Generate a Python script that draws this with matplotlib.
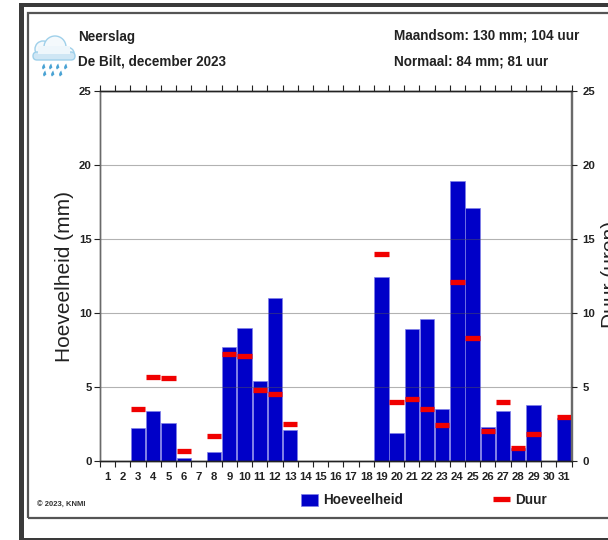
#!/usr/bin/env python3
"""Neerslag De Bilt, december 2023: daily amount (bars) and duration (dashes)."""
import matplotlib
matplotlib.use("Agg")
import matplotlib.pyplot as plt
import numpy as np
from matplotlib.lines import Line2D
from matplotlib.patches import Ellipse, FancyBboxPatch, Patch, PathPatch, Rectangle
from matplotlib.path import Path

plt.rcParams["font.family"] = ["Liberation Sans", "DejaVu Sans"]

W, H = 608, 540

days = list(range(1, 32))
hoeveelheid = [0, 0, 2.2, 3.4, 2.6, 0.2, 0, 0.6, 7.7, 9.0, 5.4, 11.0, 2.1, 0, 0, 0,
               0, 0, 12.4, 1.9, 8.9, 9.6, 3.5, 18.9, 17.1, 2.3, 3.4, 0.9, 3.8, 0, 2.9]
duur_days = [3, 4, 5, 6, 8, 9, 10, 11, 12, 13, 19, 20, 21, 22, 23, 24, 25, 26, 27, 28, 29, 31]
duur = [3.5, 5.7, 5.6, 0.7, 1.7, 7.2, 7.1, 4.8, 4.5, 2.5, 14.0, 4.0, 4.2, 3.5, 2.4,
        12.1, 8.3, 2.0, 4.0, 0.9, 1.8, 3.0]
y_ticks = [0, 5, 10, 15, 20, 25]

BLUE = "#0000c8"
RED = "#f00000"
GREY = "#6a6a6a"
DARK = "#222222"
TICK_SIZE = 8.2
HEAD_SIZE = 9.75


def fx(px):
    return px / W


def fy(py):
    return 1 - py / H


def add_frames(fig):
    # screenshot border: heavy band left and top, thin line at the bottom
    band = "#3a3a3a"
    for x0, y0, x1, y1 in [(19, 3, 24, 540), (19, 3, 608, 6.5), (19, 537.5, 608, 539.5)]:
        fig.add_artist(Rectangle((fx(x0), fy(y1)), fx(x1 - x0), (y1 - y0) / H,
                                 transform=fig.transFigure, facecolor=band, edgecolor="none"))
    # inner chart frame runs off the right edge
    fig.add_artist(Rectangle((fx(28), fy(517.5)), fx(612 - 28), (517.5 - 12.5) / H,
                             transform=fig.transFigure, fill=False,
                             edgecolor="#555555", linewidth=1.6))


def add_cloud(fig):
    ic = fig.add_axes([fx(30), fy(78), fx(48), 46 / H])
    ic.set_xlim(30, 78)
    ic.set_ylim(78, 32)
    ic.axis("off")
    edge = "#9fd0ea"
    parts = [Ellipse((43, 49), 16, 16), Ellipse((55, 47), 22, 22),
             Ellipse((66, 53), 16, 12)]
    for p in parts:
        p.set(facecolor="#f4f9fc", edgecolor=edge, linewidth=1.0)
        ic.add_patch(p)
    ic.add_patch(FancyBboxPatch((33, 52), 42, 8, boxstyle="round,pad=0,rounding_size=4",
                                facecolor="#cfe6f4", edgecolor=edge, linewidth=1.0))
    ic.add_patch(Rectangle((38, 46), 32, 8, facecolor="#eef6fb", edgecolor="none"))
    for dx, dy in [(43, 66.5), (50, 66.5), (57, 66.5), (65, 66.5), (44, 73.5), (52, 73.5), (60, 73.5)]:
        drop = Path([(dx + 1.2, dy - 3), (dx - 2.4, dy + 1), (dx, dy + 3), (dx + 2.4, dy + 1), (dx + 1.2, dy - 3)],
                    [Path.MOVETO, Path.CURVE3, Path.CURVE3, Path.LINETO, Path.CLOSEPOLY])
        ic.add_patch(PathPatch(drop, facecolor="#4aa3d4", edgecolor="none"))


def main():
    fig = plt.figure(figsize=(W / 100, H / 100), dpi=100)
    ax = fig.add_axes([fx(100), fy(461), fx(471.5), 370 / H])

    x = np.array(days) - 0.5
    ax.bar(x, hoeveelheid, width=0.94, color=BLUE, edgecolor="#7f7fe8", linewidth=0.5, zorder=2)
    ax.set_xlim(0, 31)
    ax.set_ylim(0, 25)
    ax.set_yticks(y_ticks)
    ax.yaxis.grid(True, color="#555555", alpha=0.45, linewidth=0.8, zorder=3)
    ax.set_axisbelow(False)

    ax.set_xticks(range(0, 32))
    ax.set_xticklabels([])
    ax.set_xticks(x, minor=True)
    ax.set_xticklabels([str(d) for d in days], minor=True, fontsize=TICK_SIZE,
                        fontweight="bold", color=DARK)
    ax.tick_params(axis="x", which="major", direction="out", length=4, width=0.8, color=DARK,
                   top=True, bottom=True)
    ax.tick_params(axis="x", which="minor", length=0, pad=8)
    ax.tick_params(axis="y", direction="out", length=4, width=0.8, color=DARK, pad=2,
                   labelsize=TICK_SIZE, labelcolor=DARK)
    for lab in ax.get_yticklabels():
        lab.set_fontweight("bold")
    ax.set_ylabel("Hoeveelheid (mm)", fontsize=15, color=DARK, va="center")
    ax.yaxis.set_label_coords((64 - 100) / 471.5, 0.5)

    # duration sits on its own right hand axis
    ax2 = ax.twinx()
    ax2.set_ylim(0, 25)
    ax2.set_yticks(y_ticks)
    ax2.tick_params(axis="y", direction="out", length=4, width=0.8, color=DARK, pad=4,
                    labelsize=TICK_SIZE, labelcolor=DARK)
    for lab in ax2.get_yticklabels():
        lab.set_fontweight("bold")
    dx = np.array(duur_days) - 0.5
    ax2.hlines(duur, dx - 0.47, dx + 0.47, color=RED, linewidth=3.8, zorder=4)
    ax2.set_ylabel("Duur (uren)", fontsize=15, color=DARK, va="center")
    ax2.yaxis.set_label_coords((611 - 100) / 471.5, 0.505)

    for a in (ax, ax2):
        for side in a.spines.values():
            side.set_color(GREY)
            side.set_linewidth(1.0)
        a.spines["top"].set_color(DARK)
        a.spines["bottom"].set_color(DARK)

    head = dict(fontsize=HEAD_SIZE, fontweight="bold", color=DARK, va="center")
    fig.text(fx(78), fy(37), "Neerslag", **head)
    fig.text(fx(78), fy(61), "De Bilt, december 2023", **head)
    fig.text(fx(394), fy(36), "Maandsom: 130 mm; 104 uur", **head)
    fig.text(fx(394), fy(61), "Normaal: 84 mm; 81 uur", **head)
    fig.text(fx(37), fy(505), "© 2023, KNMI", fontsize=5.5, fontweight="bold", color="#333333", va="center")

    handles = [Patch(facecolor=BLUE, edgecolor="#7f7fe8", linewidth=0.5, label="Hoeveelheid"),
               Line2D([], [], color=RED, linewidth=3.8, solid_capstyle="butt", label="Duur")]
    leg = fig.legend(handles=handles, ncol=2, frameon=False, loc="center left",
                     bbox_to_anchor=(fx(301), fy(500.5)), handlelength=1.28, borderpad=0,
                     borderaxespad=0, handletextpad=0.38, columnspacing=6.6, handleheight=1.05,
                     prop={"size": HEAD_SIZE, "weight": "bold"})
    for t in leg.get_texts():
        t.set_color(DARK)

    add_frames(fig)
    add_cloud(fig)

    fig.savefig("out.png", dpi=100)


if __name__ == "__main__":
    main()
